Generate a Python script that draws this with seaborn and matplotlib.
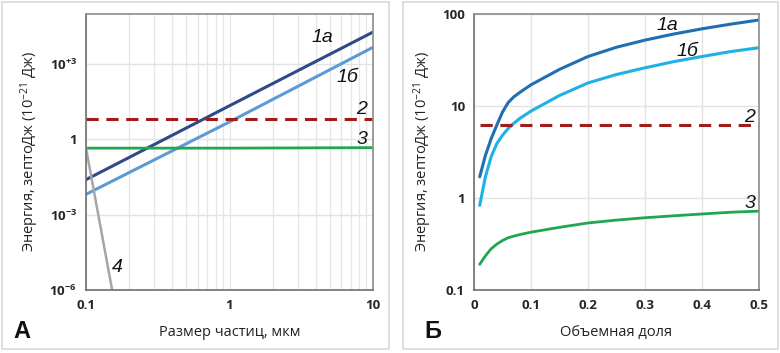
import numpy as np
import pandas as pd
import matplotlib
matplotlib.use("Agg")
import matplotlib.pyplot as plt
import matplotlib.ticker as mticker
from matplotlib.patches import Rectangle
import seaborn as sns

# ---------------- data: panel A ----------------
size_lines = [0.1, 1.0, 10.0]
a_1a = [0.025, 22.0, 1.9e4]
a_1b = [0.0065, 5.0, 4.7e3]
a_2 = [6.3, 6.3, 6.3]
a_3 = [0.45, 0.45, 0.47]
size_4 = [0.1, 0.152]
a_4 = [0.45, 1e-6]

# ---------------- data: panel B ----------------
phi = [0.01, 0.02, 0.03, 0.04, 0.05, 0.06, 0.07, 0.08, 0.1, 0.15, 0.2, 0.25, 0.3, 0.35, 0.4, 0.45, 0.5]
b_1a = [1.7, 2.9, 4.4, 6.2, 8.6, 10.9, 12.6, 14.0, 17.0, 25.0, 34.5, 43.5, 52.0, 60.5, 69.0, 77.5, 86.0]
b_1b = [0.83, 1.7, 2.8, 3.9, 4.8, 5.7, 6.5, 7.3, 8.8, 13.0, 17.8, 22.0, 26.0, 30.3, 34.5, 39.0, 43.0]
b_2 = [6.15] * len(phi)
b_3 = [0.19, 0.235, 0.28, 0.315, 0.345, 0.37, 0.385, 0.40, 0.425, 0.48, 0.535, 0.575, 0.61, 0.64, 0.67, 0.70, 0.72]

y_label = "Энергия, зептоДж (10$^{-21}$ Дж)"
xlabel_a = "Размер частиц, мкм"
xlabel_b = "Объемная доля"

sns.set_theme(style="white")
plt.rcParams["font.family"] = ["Open Sans", "DejaVu Sans"]
plt.rcParams["mathtext.fontset"] = "custom"
plt.rcParams["mathtext.rm"] = "Open Sans"
plt.rcParams["mathtext.bf"] = "Open Sans:bold"
plt.rcParams["mathtext.it"] = "Open Sans:italic"

fig = plt.figure(figsize=(7.8, 3.53), dpi=100)
fig.patch.set_facecolor("white")

# panel frames
for x0, w in [(0.003, 0.496), (0.517, 0.481)]:
    fig.patches.append(Rectangle((x0, 0.012), w, 0.982, transform=fig.transFigure,
                                 fill=False, edgecolor="#d9d9d9", linewidth=1.2))

axA = fig.add_axes([0.1103, 0.1785, 0.3679, 0.7819])
axB = fig.add_axes([0.6077, 0.1785, 0.3654, 0.7819])

c_dark = "#2e4a8a"
c_light = "#5b9bd5"
c_b1a = "#1f6fb2"
c_b1b = "#1fb0e6"
c_green = "#1fa64f"
c_red = "#a31a1a"
c_gray = "#a6a6a6"

dfA = pd.DataFrame({"x": size_lines, "1a": a_1a, "1b": a_1b, "2": a_2, "3": a_3})
df4 = pd.DataFrame({"x": size_4, "y": a_4})
sns.lineplot(data=dfA, x="x", y="1a", ax=axA, color=c_dark, lw=2.2)
sns.lineplot(data=dfA, x="x", y="1b", ax=axA, color=c_light, lw=2.2)
sns.lineplot(data=dfA, x="x", y="2", ax=axA, color=c_red, lw=2.2)
sns.lineplot(data=dfA, x="x", y="3", ax=axA, color=c_green, lw=2.0)
sns.lineplot(data=df4, x="x", y="y", ax=axA, color=c_gray, lw=1.8)
axA.lines[2].set_dashes((4, 2.5))

axA.set_xscale("log")
axA.set_yscale("log")
axA.set_xlim(0.1, 10)
axA.set_ylim(1e-6, 1e5)
axA.set_yticks([1e-6, 1e-3, 1, 1e3])
axA.set_yticklabels([r"$\mathbf{10^{-6}}$", r"$\mathbf{10^{-3}}$", r"$\mathbf{1}$", r"$\mathbf{10^{+3}}$"])
axA.yaxis.set_minor_locator(mticker.NullLocator())
axA.set_xticks([0.1, 1, 10])
axA.set_xticklabels(["0.1", "1", "10"])
axA.xaxis.set_minor_locator(mticker.LogLocator(base=10, subs=np.arange(2, 10)))
axA.xaxis.set_minor_formatter(mticker.NullFormatter())
axA.grid(True, which="major", axis="y", color="#e3e3e3", lw=1)
axA.grid(True, which="both", axis="x", color="#e6e6e6", lw=0.9)

dfB = pd.DataFrame({"x": phi, "1a": b_1a, "1b": b_1b, "2": b_2, "3": b_3})
sns.lineplot(data=dfB, x="x", y="1a", ax=axB, color=c_b1a, lw=2.2)
sns.lineplot(data=dfB, x="x", y="1b", ax=axB, color=c_b1b, lw=2.2)
sns.lineplot(data=dfB, x="x", y="2", ax=axB, color=c_red, lw=2.2)
sns.lineplot(data=dfB, x="x", y="3", ax=axB, color=c_green, lw=2.0)
axB.lines[2].set_dashes((4, 2.5))
axB.set_yscale("log")
axB.set_xlim(0, 0.5)
axB.set_ylim(0.1, 100)
axB.set_yticks([0.1, 1, 10, 100])
axB.set_yticklabels(["0.1", "1", "10", "100"])
axB.yaxis.set_minor_locator(mticker.NullLocator())
axB.set_xticks([0, 0.1, 0.2, 0.3, 0.4, 0.5])
axB.set_xticklabels(["0", "0.1", "0.2", "0.3", "0.4", "0.5"])
axB.grid(True, which="major", color="#e3e3e3", lw=1)

for ax, xl in [(axA, xlabel_a), (axB, xlabel_b)]:
    ax.set_facecolor("white")
    for s in ax.spines.values():
        s.set_visible(True)
        s.set_color("#8c8c8c")
        s.set_linewidth(1.2)
    ax.spines["left"].set_color("#6e6e6e")
    ax.spines["bottom"].set_color("#6e6e6e")
    ax.set_xlabel(xl, fontsize=10.5, labelpad=9, color="#222222")
    ax.set_ylabel(y_label, fontsize=10.5, labelpad=6, color="#222222")
    ax.tick_params(axis="both", which="major", direction="inout", length=5, width=1,
                   color="#6e6e6e", labelsize=9.5, pad=4)
    ax.tick_params(axis="x", which="minor", direction="in", length=3, width=0.8, color="#6e6e6e")
    for t in ax.get_xticklabels() + ax.get_yticklabels():
        t.set_fontweight("bold")
    ax.set_axisbelow(True)

def px(x, y):
    return (x / 780.0, 1 - y / 353.0)

lab = dict(fontsize=14, style="italic", ha="center", va="center", color="#111111",
           family=["Liberation Sans", "DejaVu Sans"])
for t, (x, y) in [("1a", (322, 38)), ("1б", (347, 77)), ("2", (362, 110)), ("3", (362, 140)), ("4", (117, 267)),
                  ("1a", (667, 26)), ("1б", (687, 52)), ("2", (750, 117)), ("3", (750, 203))]:
    fig.text(*px(x, y), t, **lab)

fig.text(*px(22, 332), "А", fontsize=17, fontweight="bold", ha="center", va="center", color="#111111",
         family=["Liberation Sans", "DejaVu Sans"])
fig.text(*px(433, 332), "Б", fontsize=17, fontweight="bold", ha="center", va="center", color="#111111",
         family=["Liberation Sans", "DejaVu Sans"])

fig.savefig("out.png", dpi=100)
